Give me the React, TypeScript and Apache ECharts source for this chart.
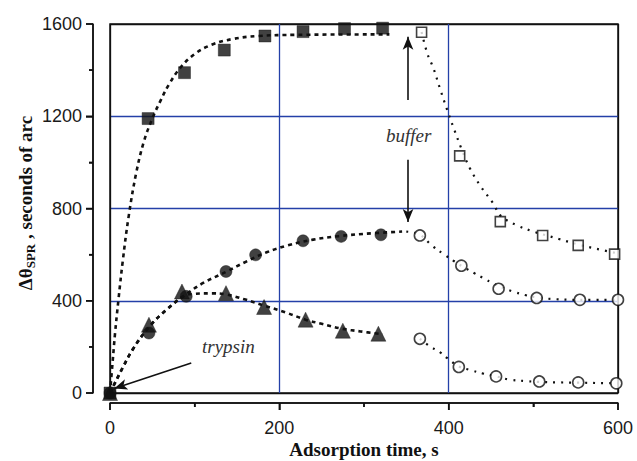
import React, { useEffect, useRef } from "react";
import * as echarts from "echarts";

// ---- data ----
const xTicks = [0, 200, 400, 600];
const yTicks = [0, 400, 800, 1200, 1600];
const xMinorStep = 100;
const yMinorStep = 200;
const xTitle = "Adsorption time, s";
const yTitleRich = "{a|Δθ}{b|SPR}{a| , seconds of arc}";

const filledSquares = [[0, 0], [45, 1190], [88, 1389], [135, 1487], [183, 1548], [228, 1567], [277, 1580], [322, 1582]];
const openSquares = [[368, 1564], [413, 1028], [461, 743], [511, 683], [553, 640], [596, 602]];
const filledCircles = [[0, 0], [46, 260], [90, 419], [137, 527], [172, 599], [228, 660], [273, 679], [320, 686]];
const openCirclesUpper = [[366, 683], [415, 552], [459, 452], [504, 412], [555, 404], [600, 404]];
const filledTriangles = [[0, 0], [46, 296], [85, 440], [137, 433], [182, 373], [231, 318], [275, 270], [317, 257]];
const openCirclesLower = [[366, 235], [412, 113], [456, 72], [507, 50], [553, 46], [598, 42]];

// fitted curves
const squareFit = [[0, 0], [3, 130], [6, 260], [10, 405], [15, 570], [22, 765], [31, 955], [40, 1090], [50, 1190], [60, 1270], [70, 1340], [83, 1410], [100, 1470], [120, 1510], [145, 1535], [175, 1548], [220, 1553], [330, 1555]];
const circleFit = [[0, 0], [4, 30], [15, 110], [27, 190], [47, 290], [67, 362], [87, 420], [110, 477], [138, 527], [161, 570], [185, 610], [210, 640], [240, 665], [270, 680], [300, 690], [345, 700]];
const triangleFit = [[0, 0], [4, 30], [15, 110], [27, 190], [47, 290], [67, 362], [88, 422], [100, 430], [120, 432], [136, 428], [160, 405], [183, 378], [207, 350], [231, 318], [250, 300], [275, 278], [296, 267], [322, 255]];
const squareRecovery = [[368, 1565], [375, 1470], [382, 1408], [390, 1317], [398, 1230], [406, 1148], [415, 1060], [425, 975], [438, 895], [453, 820], [461, 770], [480, 728], [500, 700], [511, 688], [530, 668], [555, 642], [575, 625], [600, 605]];
const circleRecoveryUpper = [[350, 700], [366, 686], [380, 640], [395, 600], [407, 570], [418, 545], [430, 520], [441, 498], [452, 476], [464, 456], [476, 440], [490, 425], [505, 414], [525, 407], [555, 404], [600, 404]];
const circleRecoveryLower = [[366, 235], [378, 202], [390, 176], [398, 152], [412, 115], [425, 100], [441, 84], [456, 72], [472, 58], [490, 52], [507, 48], [527, 46], [553, 45], [579, 43], [600, 42]];

// annotation arrows (data coordinates)
const bufferArrowUp = [[352, 1270], [352, 1545]];
const bufferArrowDown = [[352, 1011], [352, 742]];
const trypsinArrow = [[96, 130], [5, 20]];

const INK = "#111";
const GRID_BLUE = "#2440a8";
const SERIF = "Liberation Serif, Times New Roman, serif";
const SANS = "Liberation Sans, Arial, sans-serif";
const X_OFFSET = 10;
const Y_OFFSET = 17;

export default function App() {
  const ref = useRef<HTMLDivElement>(null);

  useEffect(() => {
    if (!ref.current) return;
    const chart = echarts.init(ref.current, null, { renderer: "svg" });

    const dashed = (data: number[][]) => ({
      type: "line",
      data,
      smooth: 0.4,
      showSymbol: false,
      symbol: "none",
      silent: true,
      z: 2,
      lineStyle: { color: INK, width: 2.6, type: [4, 4] },
    });
    const dotted = (data: number[][]) => ({
      type: "line",
      data,
      smooth: 0.4,
      showSymbol: false,
      symbol: "none",
      silent: true,
      z: 2,
      lineStyle: { color: INK, width: 2.2, type: [2, 6] },
    });
    const filled = (data: number[][], symbol: string, size: number) => ({
      type: "scatter",
      data,
      symbol,
      symbolSize: size,
      z: 4,
      itemStyle: { color: INK, borderColor: INK, borderWidth: 0.5 },
    });
    const open = (data: number[][], symbol: string, size: number) => ({
      type: "scatter",
      data,
      symbol,
      symbolSize: size,
      z: 4,
      itemStyle: { color: "#fff", borderColor: INK, borderWidth: 1.6 },
    });
    const arrow = (pts: number[][]) => [
      { coord: pts[0], symbol: "none", symbolSize: 1 },
      { coord: pts[1], symbol: "arrow", symbolSize: [8, 13] },
    ];
    const splitColors = (ticks: number[]) =>
      ticks.map((_, i) => (i === 0 || i === ticks.length - 1 ? INK : GRID_BLUE));

    const axisBase = {
      type: "value",
      axisLine: { show: true, onZero: false, lineStyle: { color: INK, width: 1.5 } },
      axisTick: { show: true, length: 7, lineStyle: { color: INK, width: 1.5 } },
      minorTick: { show: true, splitNumber: 2, length: 4, lineStyle: { color: INK, width: 1.5 } },
    };

    chart.setOption({
      animation: false,
      grid: {
        left: 110,
        right: 19,
        top: 24,
        bottom: 68,
        show: true,
        borderColor: INK,
        borderWidth: 1.5,
      },
      xAxis: {
        ...axisBase,
        min: xTicks[0],
        max: xTicks[xTicks.length - 1],
        interval: xTicks[1] - xTicks[0],
        offset: X_OFFSET,
        splitLine: { show: true, lineStyle: { color: splitColors(xTicks), width: 1.3 } },
        axisLabel: { color: "#1a1a1a", fontSize: 18, fontFamily: SANS, margin: 16, formatter: (v: number) => String(v) },
      },
      yAxis: {
        ...axisBase,
        min: yTicks[0],
        max: yTicks[yTicks.length - 1],
        interval: yTicks[1] - yTicks[0],
        offset: Y_OFFSET,
        splitLine: { show: true, lineStyle: { color: splitColors(yTicks), width: 1.3 } },
        axisLabel: { color: "#1a1a1a", fontSize: 18, fontFamily: SANS, margin: 11, formatter: (v: number) => String(v) },
      },
      series: [
        {
          ...dashed(squareFit),
          markLine: {
            silent: true,
            symbol: ["none", "arrow"],
            symbolSize: [1, 12],
            label: { show: false },
            lineStyle: { color: INK, width: 1.6, type: "solid" },
            data: [arrow(bufferArrowUp), arrow(bufferArrowDown), arrow(trypsinArrow)],
          },
        },
        dashed(circleFit),
        dashed(triangleFit),
        dotted(squareRecovery),
        dotted(circleRecoveryUpper),
        dotted(circleRecoveryLower),
        filled(filledSquares, "rect", 12),
        filled(filledCircles, "circle", 12),
        filled(filledTriangles, "triangle", 15),
        open(openSquares, "rect", 10),
        open(openCirclesUpper, "circle", 11),
        open(openCirclesLower, "circle", 11),
      ],
    });

    // offset axis lines and ticks, positioned through the chart's own scales
    const toPx = (x: number, y: number) => chart.convertToPixel({ gridIndex: 0 }, [x, y]) as number[];
    const origin = toPx(xTicks[0], yTicks[0]);
    const corner = toPx(xTicks[xTicks.length - 1], yTicks[yTicks.length - 1]);
    const axisX = origin[0] - Y_OFFSET;
    const axisY = origin[1] + X_OFFSET;
    const lineStyle = { stroke: INK, lineWidth: 1.5 };
    const axisGraphics: any[] = [
      { type: "line", silent: true, shape: { x1: axisX, y1: corner[1], x2: axisX, y2: origin[1] }, style: lineStyle },
      { type: "line", silent: true, shape: { x1: origin[0], y1: axisY, x2: corner[0], y2: axisY }, style: lineStyle },
    ];
    const yMajor = yTicks[1] - yTicks[0];
    for (let v = yTicks[0]; v <= yTicks[yTicks.length - 1]; v += yMinorStep) {
      const py = toPx(xTicks[0], v)[1];
      const len = v % yMajor === 0 ? 7 : 4;
      axisGraphics.push({ type: "line", silent: true, shape: { x1: axisX - len, y1: py, x2: axisX, y2: py }, style: lineStyle });
    }
    const xMajor = xTicks[1] - xTicks[0];
    for (let v = xTicks[0]; v <= xTicks[xTicks.length - 1]; v += xMinorStep) {
      const px = toPx(v, yTicks[0])[0];
      const len = v % xMajor === 0 ? 7 : 4;
      axisGraphics.push({ type: "line", silent: true, shape: { x1: px, y1: axisY, x2: px, y2: axisY + len }, style: lineStyle });
    }

    chart.setOption({
      graphic: [
        {
          type: "text",
          x: 364,
          y: 449,
          style: { text: xTitle, fill: INK, fontSize: 19, fontWeight: "bold", fontFamily: SERIF, align: "center", verticalAlign: "middle" },
        },
        {
          type: "text",
          x: 25,
          y: 203,
          rotation: Math.PI / 2,
          style: {
            text: yTitleRich,
            align: "center",
            verticalAlign: "middle",
            rich: {
              a: { fill: INK, fontSize: 19, fontWeight: "bold", fontFamily: SERIF },
              b: { fill: INK, fontSize: 13, fontWeight: "bold", fontFamily: SERIF, padding: [10, 0, 0, 0] },
            },
          },
        },
        {
          type: "text",
          left: 386,
          top: 126,
          style: { text: "buffer", fill: "#333", fontSize: 19, fontStyle: "italic", fontFamily: SERIF },
        },
        {
          type: "text",
          left: 202,
          top: 337,
          style: { text: "trypsin", fill: "#333", fontSize: 19, fontStyle: "italic", fontFamily: SERIF },
        },
        ...axisGraphics,
      ],
    });

    return () => chart.dispose();
  }, []);

  return (
    <div
      ref={ref}
      style={{ position: "fixed", left: 0, top: 0, width: 637, height: 461, background: "#fff" }}
    />
  );
}
